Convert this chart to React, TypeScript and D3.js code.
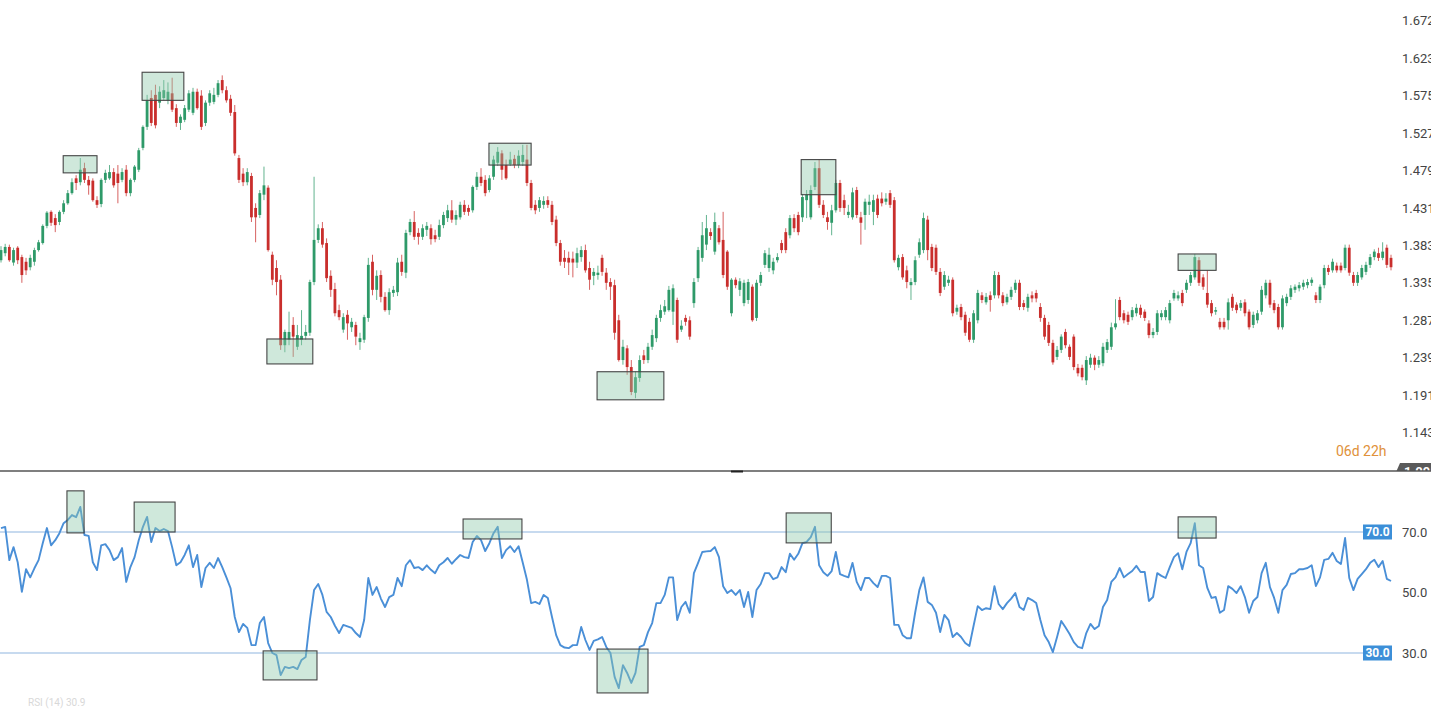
import React from "react";
import * as d3 from "d3";

const opens = [1.364,1.373,1.381,1.361,1.380,1.368,1.362,1.355,1.362,1.377,
1.386,1.408,1.426,1.418,1.413,1.426,1.437,1.450,1.469,1.464,
1.482,1.467,1.466,1.441,1.436,1.467,1.469,1.477,1.475,1.467,
1.480,1.450,1.467,1.480,1.508,1.535,1.572,1.576,1.566,1.572,
1.569,1.578,1.559,1.540,1.544,1.557,1.553,1.580,1.575,1.540,
1.566,1.567,1.576,1.595,1.582,1.571,1.554,1.495,1.475,1.464,
1.472,1.431,1.422,1.448,1.457,1.371,1.354,1.339,1.255,1.262,
1.281,1.253,1.262,1.267,1.271,1.336,1.390,1.405,1.386,1.344,
1.327,1.300,1.275,1.294,1.278,1.281,1.259,1.262,1.290,1.362,
1.326,1.345,1.317,1.300,1.322,1.323,1.362,1.348,1.400,1.413,
1.399,1.394,1.403,1.405,1.396,1.394,1.409,1.418,1.428,1.416,
1.419,1.435,1.431,1.428,1.458,1.471,1.467,1.454,1.471,1.489,
1.501,1.486,1.487,1.494,1.486,1.490,1.493,1.463,1.435,1.431,
1.435,1.441,1.435,1.416,1.386,1.367,1.367,1.366,1.361,1.368,
1.377,1.354,1.344,1.345,1.367,1.348,1.336,1.332,1.287,1.236,
1.251,1.227,1.194,1.213,1.242,1.236,1.253,1.264,1.290,1.298,
1.300,1.298,1.313,1.275,1.290,1.287,1.309,1.341,1.367,1.384,
1.400,1.375,1.405,1.390,1.375,1.296,1.339,1.326,1.309,1.313,
1.330,1.290,1.335,1.358,1.354,1.351,1.364,1.386,1.400,1.396,
1.418,1.422,1.419,1.441,1.419,1.458,1.482,1.435,1.419,1.412,
1.428,1.463,1.441,1.422,1.419,1.454,1.419,1.422,1.435,1.426,
1.443,1.443,1.439,1.450,1.441,1.355,1.368,1.351,1.332,1.336,
1.371,1.377,1.416,1.381,1.380,1.349,1.330,1.335,1.339,1.298,
1.304,1.294,1.285,1.262,1.287,1.319,1.310,1.319,1.319,1.345,
1.319,1.310,1.317,1.326,1.335,1.309,1.303,1.319,1.322,1.304,
1.290,1.281,1.258,1.240,1.249,1.272,1.253,1.266,1.226,1.226,
1.210,1.230,1.239,1.230,1.232,1.249,1.253,1.278,1.313,1.296,
1.294,1.291,1.296,1.303,1.298,1.283,1.268,1.272,1.291,1.291,
1.287,1.315,1.315,1.322,1.326,1.335,1.342,1.364,1.342,1.322,
1.309,1.298,1.285,1.285,1.287,1.317,1.307,1.303,1.310,1.298,
1.281,1.287,1.298,1.319,1.335,1.309,1.304,1.278,1.309,1.317,
1.326,1.328,1.330,1.332,1.335,1.319,1.313,1.332,1.354,1.351,
1.357,1.357,1.354,1.380,1.345,1.335,1.342,1.349,1.358,1.368,
1.373,1.367,1.380,1.367];

const highs = [1.382,1.385,1.384,1.380,1.382,1.371,1.367,1.371,1.380,1.390,
1.410,1.427,1.428,1.423,1.428,1.441,1.454,1.469,1.473,1.495,
1.489,1.472,1.469,1.446,1.469,1.480,1.486,1.482,1.486,1.482,
1.486,1.469,1.486,1.508,1.537,1.576,1.582,1.589,1.587,1.595,
1.592,1.598,1.564,1.551,1.563,1.582,1.585,1.584,1.582,1.569,
1.582,1.585,1.595,1.601,1.587,1.576,1.563,1.499,1.482,1.482,
1.476,1.437,1.454,1.484,1.460,1.375,1.364,1.345,1.275,1.298,
1.291,1.281,1.300,1.281,1.339,1.471,1.410,1.413,1.392,1.351,
1.335,1.307,1.296,1.300,1.290,1.285,1.271,1.294,1.367,1.371,
1.351,1.351,1.323,1.328,1.331,1.367,1.371,1.403,1.417,1.427,
1.405,1.410,1.413,1.410,1.403,1.416,1.426,1.435,1.441,1.428,
1.439,1.441,1.435,1.460,1.477,1.482,1.473,1.473,1.498,1.509,
1.505,1.493,1.503,1.499,1.505,1.512,1.512,1.467,1.441,1.445,
1.446,1.446,1.440,1.421,1.390,1.377,1.375,1.375,1.380,1.382,
1.384,1.362,1.354,1.357,1.371,1.354,1.341,1.339,1.294,1.262,
1.255,1.236,1.221,1.242,1.249,1.258,1.275,1.294,1.307,1.313,
1.331,1.333,1.316,1.287,1.294,1.292,1.341,1.381,1.413,1.422,
1.405,1.425,1.409,1.426,1.377,1.341,1.342,1.341,1.339,1.340,
1.333,1.339,1.349,1.377,1.380,1.367,1.373,1.390,1.405,1.422,
1.423,1.426,1.449,1.454,1.460,1.490,1.493,1.441,1.426,1.435,
1.467,1.467,1.448,1.435,1.457,1.458,1.426,1.443,1.448,1.448,
1.448,1.451,1.450,1.454,1.445,1.371,1.372,1.357,1.341,1.369,
1.392,1.425,1.421,1.385,1.384,1.354,1.350,1.344,1.342,1.307,
1.308,1.298,1.290,1.300,1.326,1.323,1.322,1.324,1.350,1.349,
1.323,1.321,1.330,1.339,1.339,1.313,1.321,1.324,1.326,1.309,
1.294,1.285,1.262,1.254,1.269,1.276,1.256,1.269,1.231,1.230,
1.241,1.244,1.242,1.241,1.258,1.263,1.284,1.314,1.317,1.300,
1.298,1.304,1.308,1.307,1.301,1.287,1.277,1.300,1.300,1.304,
1.313,1.326,1.324,1.326,1.339,1.349,1.372,1.368,1.346,1.351,
1.313,1.304,1.290,1.290,1.315,1.321,1.310,1.313,1.314,1.301,
1.298,1.300,1.331,1.339,1.339,1.313,1.308,1.319,1.321,1.332,
1.333,1.336,1.339,1.340,1.342,1.323,1.333,1.358,1.358,1.366,
1.361,1.361,1.384,1.384,1.349,1.349,1.358,1.362,1.372,1.378,
1.380,1.387,1.384,1.371];

const lows = [1.361,1.369,1.362,1.357,1.359,1.335,1.345,1.351,1.357,1.375,
1.384,1.405,1.408,1.400,1.409,1.423,1.435,1.448,1.454,1.460,
1.463,1.448,1.439,1.431,1.432,1.463,1.467,1.457,1.437,1.464,
1.446,1.446,1.464,1.477,1.505,1.531,1.536,1.533,1.559,1.569,
1.564,1.554,1.535,1.531,1.541,1.554,1.550,1.557,1.531,1.536,
1.562,1.564,1.573,1.578,1.566,1.549,1.498,1.463,1.459,1.460,
1.413,1.387,1.418,1.441,1.375,1.332,1.319,1.249,1.246,1.255,
1.240,1.249,1.255,1.262,1.267,1.332,1.386,1.380,1.336,1.317,
1.292,1.287,1.271,1.262,1.272,1.255,1.249,1.258,1.285,1.319,
1.313,1.310,1.298,1.294,1.317,1.318,1.344,1.341,1.396,1.390,
1.384,1.390,1.395,1.384,1.387,1.390,1.405,1.413,1.412,1.409,
1.416,1.422,1.421,1.425,1.454,1.459,1.446,1.451,1.467,1.485,
1.467,1.467,1.485,1.482,1.482,1.485,1.459,1.428,1.423,1.426,
1.430,1.431,1.409,1.382,1.357,1.354,1.345,1.342,1.354,1.362,
1.348,1.326,1.332,1.339,1.344,1.326,1.313,1.262,1.234,1.230,
1.217,1.191,1.187,1.208,1.231,1.232,1.249,1.259,1.285,1.294,
1.298,1.281,1.258,1.272,1.280,1.262,1.303,1.336,1.362,1.377,
1.390,1.371,1.384,1.341,1.326,1.292,1.328,1.318,1.305,1.308,
1.285,1.286,1.331,1.354,1.349,1.346,1.361,1.373,1.373,1.392,
1.400,1.396,1.413,1.418,1.416,1.454,1.431,1.418,1.403,1.396,
1.425,1.426,1.422,1.418,1.416,1.418,1.384,1.403,1.422,1.409,
1.418,1.433,1.435,1.431,1.361,1.351,1.339,1.328,1.313,1.332,
1.367,1.373,1.364,1.350,1.345,1.318,1.326,1.331,1.292,1.294,
1.287,1.267,1.259,1.258,1.283,1.309,1.307,1.298,1.315,1.315,
1.305,1.307,1.313,1.322,1.300,1.300,1.298,1.310,1.310,1.285,
1.262,1.254,1.230,1.236,1.245,1.251,1.236,1.223,1.215,1.210,
1.204,1.226,1.223,1.226,1.228,1.245,1.249,1.275,1.287,1.283,
1.281,1.287,1.292,1.290,1.286,1.264,1.264,1.268,1.287,1.287,
1.283,1.312,1.312,1.305,1.322,1.331,1.339,1.331,1.326,1.303,
1.292,1.294,1.275,1.275,1.275,1.299,1.296,1.299,1.292,1.275,
1.277,1.283,1.294,1.315,1.303,1.296,1.275,1.275,1.305,1.313,
1.322,1.324,1.326,1.328,1.331,1.309,1.309,1.328,1.345,1.348,
1.348,1.348,1.351,1.344,1.331,1.331,1.339,1.345,1.354,1.364,
1.363,1.364,1.354,1.351];

const closes = [1.377,1.381,1.364,1.377,1.364,1.345,1.351,1.367,1.377,1.387,
1.408,1.425,1.412,1.409,1.426,1.437,1.450,1.464,1.463,1.480,
1.467,1.460,1.441,1.435,1.467,1.476,1.477,1.460,1.463,1.477,
1.450,1.467,1.484,1.505,1.535,1.569,1.540,1.537,1.580,1.582,
1.580,1.557,1.540,1.548,1.559,1.578,1.580,1.559,1.535,1.566,
1.578,1.576,1.591,1.582,1.569,1.553,1.501,1.467,1.464,1.477,
1.419,1.419,1.450,1.460,1.377,1.339,1.336,1.255,1.272,1.272,
1.266,1.268,1.267,1.272,1.336,1.390,1.405,1.384,1.341,1.326,
1.296,1.291,1.291,1.283,1.285,1.266,1.264,1.291,1.358,1.326,
1.344,1.317,1.300,1.323,1.326,1.361,1.349,1.399,1.413,1.394,
1.394,1.405,1.408,1.391,1.391,1.409,1.422,1.428,1.416,1.422,
1.435,1.426,1.426,1.458,1.471,1.463,1.450,1.469,1.493,1.503,
1.480,1.469,1.493,1.486,1.498,1.499,1.463,1.431,1.428,1.441,
1.440,1.435,1.413,1.386,1.362,1.362,1.361,1.361,1.373,1.377,
1.351,1.339,1.349,1.348,1.349,1.335,1.330,1.271,1.236,1.253,
1.227,1.195,1.214,1.236,1.236,1.253,1.268,1.290,1.300,1.305,
1.326,1.328,1.262,1.280,1.285,1.266,1.336,1.377,1.396,1.405,
1.395,1.413,1.387,1.345,1.330,1.339,1.332,1.337,1.335,1.336,
1.287,1.335,1.345,1.373,1.371,1.362,1.368,1.377,1.377,1.418,
1.405,1.400,1.445,1.448,1.454,1.482,1.435,1.422,1.413,1.428,
1.463,1.431,1.431,1.426,1.451,1.422,1.412,1.439,1.439,1.441,
1.422,1.437,1.443,1.435,1.364,1.367,1.342,1.336,1.336,1.364,
1.387,1.418,1.377,1.354,1.349,1.322,1.345,1.339,1.296,1.303,
1.291,1.271,1.262,1.296,1.322,1.313,1.317,1.313,1.345,1.319,
1.309,1.317,1.326,1.335,1.304,1.304,1.317,1.315,1.315,1.290,
1.266,1.258,1.233,1.249,1.266,1.255,1.240,1.227,1.219,1.214,
1.236,1.239,1.230,1.236,1.253,1.259,1.278,1.283,1.291,1.287,
1.285,1.300,1.303,1.294,1.290,1.268,1.272,1.296,1.296,1.300,
1.309,1.322,1.319,1.309,1.335,1.345,1.368,1.335,1.330,1.307,
1.296,1.300,1.278,1.278,1.310,1.303,1.300,1.309,1.296,1.278,
1.294,1.296,1.326,1.335,1.307,1.300,1.278,1.315,1.317,1.328,
1.330,1.332,1.335,1.336,1.339,1.313,1.330,1.354,1.349,1.362,
1.351,1.351,1.380,1.348,1.335,1.345,1.354,1.358,1.368,1.375,
1.367,1.375,1.358,1.355];

const rsiValues = [71.3,71.7,60.7,65,60,50.2,57.7,55,58,60.7,
66.3,71.3,65.6,67.3,69.6,72.9,74,75.6,74.9,78.3,
69,68.7,60,57.4,65.6,66,64,60.7,61.7,64.7,
53.5,58.4,61.7,67.3,71.7,75,66.7,71.3,70.3,71,
70.3,65,59,60,62.4,65.6,58.4,62.4,51.8,58.1,
59.8,58.1,61.4,58.4,55,51.4,41.9,36.9,39.6,38.3,
32.6,32.6,39.9,41.9,33.3,30,29.3,22.7,25.4,25,
25.4,24.7,27.7,28.7,40.9,50.8,52.8,49.2,43.6,41.9,
39,36.6,39.3,38.8,38.3,36.6,35.3,40.9,54.8,49.2,
51.8,48,45.2,48.5,49.2,54.8,52.1,59,60.7,58.1,
58.4,57.4,59,57.5,56.4,59,60,61.4,59.5,61,
62.4,61.7,61.4,66.7,68.7,67.3,63.7,66.3,69.6,71.7,
61.4,64,65.3,63.4,65.3,59.8,54.2,46.5,46.9,46.2,
49.2,48.2,41.9,35.9,32.6,31.8,31.6,32.6,32.6,38.6,
34.3,31,34,34.5,35.3,32,30,22.1,18.4,26,
23.4,20.1,23.4,32,32.6,36.9,39.9,46.5,46.5,49.2,
55,55,40.9,45.2,46.9,43.3,56.4,59.8,63.4,63.6,
63.7,65,61.7,52.1,49.8,50.8,49.2,50.8,45.2,50.2,
41.9,50.8,52.8,56.4,56.4,54.4,55,58.4,56.7,62.8,
60.8,62.8,66.3,66.7,68.3,71.7,59,56.7,55.5,57.1,
63.4,56.1,55.5,55,59.8,53.5,50.8,54.8,54.8,53.1,
51.8,55.5,55.5,54.8,39.3,39.3,35.9,34.9,34.9,43.3,
50.8,55,46.9,45.9,43.3,36.9,42.6,40.9,35.3,36.6,
35.3,33.3,32.3,39,45.5,44.2,44.8,44.5,52.1,46.2,
44.5,46.5,48,49.8,45.2,44.2,48.2,47.5,46.5,40.9,
35.9,33.6,30.3,35.3,40.6,38.5,36.3,33.6,32,31.6,
36.6,39.6,37.9,38.9,45.2,47.5,53.5,55,58.1,55,
56.1,57.1,58.8,56.8,56.8,47.2,48.5,56.4,55.5,54.8,
58.4,61.7,63,57.7,63.4,66.3,72.9,59,58.1,51.5,
48.2,48.5,43.3,44.2,52.1,51.2,49.8,52.1,48.5,43.3,
47.2,48.5,56.4,59.8,51.8,48.2,43.3,50.8,52.5,56.1,
56.4,57.7,57.7,58.1,59,52.1,55,60.8,61.1,63.1,
60.4,59.4,68,54.8,50.8,54.5,56.1,57.7,59.8,60.8,
58.4,60.4,54.5,53.8];

const priceTicks = [1.672, 1.623, 1.575, 1.527, 1.479, 1.431, 1.383, 1.335, 1.287, 1.239, 1.191, 1.143];
const lastTagValue = 1.095;
const rsiTicks = [70, 50, 30];
const rsiLevels = [70, 30];
const timerLabel = ["06d", "22h"];
const rsiLegend = "RSI (14) 30.9";

// highlight boxes: [startIndex, endIndex, top value, bottom value]
const priceBoxes = [
  [14.9, 23.0, 1.498, 1.476],
  [33.8, 43.8, 1.605, 1.569],
  [63.7, 74.7, 1.263, 1.231],
  [116.9, 127.0, 1.514, 1.486],
  [142.8, 158.8, 1.221, 1.185],
  [191.7, 200.0, 1.493, 1.448],
  [282.0, 291.1, 1.372, 1.351],
];
const rsiBoxes = [
  [15.8, 19.9, 83.6, 69.7],
  [31.9, 41.7, 79.9, 70.0],
  [62.8, 75.7, 30.7, 21.1],
  [110.7, 124.8, 74.3, 67.7],
  [142.8, 155.0, 31.3, 16.8],
  [188.1, 198.9, 76.3, 66.4],
  [282.0, 291.1, 75.0, 68.0],
];

const W = 1431;
const H = 709;
const UP = "#2e9a69";
const DOWN = "#c92e2c";
const FONT = "Roboto, 'Open Sans', Arial, sans-serif";

export default function App() {
  const n = opens.length;
  const x = d3.scaleLinear().domain([0, n - 1]).range([1, 1391]);
  const y = d3.scaleLinear().domain([1.095, 1.672]).range([470, 20]);
  const yr = d3.scaleLinear().domain([30, 70]).range([653, 532]);
  const rsiLine = d3
    .line<number>()
    .x((_, i) => x(i))
    .y((d) => yr(d))
    .curve(d3.curveLinear);
  const bodyW = 2.8;
  const sepY = 471;

  return (
    <svg
      width={W}
      height={H}
      viewBox={`0 0 ${W} ${H}`}
      style={{ position: "absolute", left: 0, top: 0, background: "#fff", fontFamily: FONT }}
    >
      <defs>
        <clipPath id="tagclip">
          <rect x={0} y={0} width={W} height={sepY} />
        </clipPath>
      </defs>
      <rect x={0} y={0} width={W} height={H} fill="#fff" />

      {/* candles */}
      <g>
        {opens.map((o, i) => {
          const c = closes[i];
          const hi = Math.max(highs[i], o, c);
          const lo = Math.min(lows[i], o, c);
          const col = c >= o ? UP : DOWN;
          const top = y(Math.max(o, c));
          const bot = y(Math.min(o, c));
          const cx = x(i);
          return (
            <g key={i}>
              <line x1={cx} x2={cx} y1={y(hi)} y2={y(lo)} stroke={col} strokeWidth={1} strokeOpacity={0.75} />
              <rect x={cx - bodyW / 2} y={top} width={bodyW} height={Math.max(1.2, bot - top)} fill={col} />
            </g>
          );
        })}
      </g>

      {/* price highlight boxes */}
      {priceBoxes.map((b, i) => (
        <rect
          key={"pb" + i}
          x={x(b[0])}
          y={y(b[2])}
          width={x(b[1]) - x(b[0])}
          height={y(b[3]) - y(b[2])}
          fill="rgba(140,200,170,0.42)"
          stroke="#454545"
          strokeWidth={1.1}
        />
      ))}

      {/* price axis labels */}
      {priceTicks.map((t) => (
        <text key={t} x={1402} y={y(t)} dy="0.35em" fontSize={13} fill="#444">
          {t.toFixed(3)}
        </text>
      ))}

      {/* timer label */}
      <text x={1336} y={456} fontSize={14} fill="#e0913a">
        {timerLabel.join(" ")}
      </text>

      {/* last price tag (clipped by separator) */}
      <g clipPath="url(#tagclip)">
        <path
          d={`M1393,${y(lastTagValue) + 9} L1400,${y(lastTagValue) - 7} L${W},${y(lastTagValue) - 7} L${W},${y(lastTagValue) + 9} Z`}
          fill="#5a5a5a"
        />
        <text x={1404} y={y(lastTagValue) + 6} fontSize={13} fill="#fff" fontWeight="bold">
          {lastTagValue.toFixed(3)}
        </text>
      </g>

      {/* separator */}
      <line x1={0} x2={W} y1={sepY} y2={sepY} stroke="#555" strokeWidth={1.3} />
      <line x1={731} x2={743} y1={sepY + 0.5} y2={sepY + 0.5} stroke="#222" strokeWidth={2} />

      {/* RSI levels */}
      {rsiLevels.map((lv) => (
        <g key={"lv" + lv}>
          <line x1={0} x2={1363} y1={yr(lv)} y2={yr(lv)} stroke="#8fb6e0" strokeWidth={1.2} />
          <rect x={1363} y={yr(lv) - 7.5} width={29} height={15} fill="#3c8fd8" />
          <text x={1377.5} y={yr(lv)} dy="0.36em" textAnchor="middle" fontSize={12} fontWeight="bold" fill="#fff">
            {lv.toFixed(1)}
          </text>
        </g>
      ))}

      {/* RSI line */}
      <path d={rsiLine(rsiValues) || ""} fill="none" stroke="#4a8fd7" strokeWidth={1.9} strokeLinejoin="round" />

      {/* RSI highlight boxes */}
      {rsiBoxes.map((b, i) => (
        <rect
          key={"rb" + i}
          x={x(b[0])}
          y={yr(b[2])}
          width={x(b[1]) - x(b[0])}
          height={yr(b[3]) - yr(b[2])}
          fill="rgba(140,200,170,0.42)"
          stroke="#454545"
          strokeWidth={1.1}
        />
      ))}

      {/* RSI axis labels */}
      {rsiTicks.map((t) => (
        <text key={"rt" + t} x={1402} y={yr(t)} dy="0.35em" fontSize={13} fill="#444">
          {t.toFixed(1)}
        </text>
      ))}

      {/* faint RSI legend */}
      <text x={28} y={706} fontSize={10} fill="#d8d8d8">
        {rsiLegend}
      </text>
    </svg>
  );
}
